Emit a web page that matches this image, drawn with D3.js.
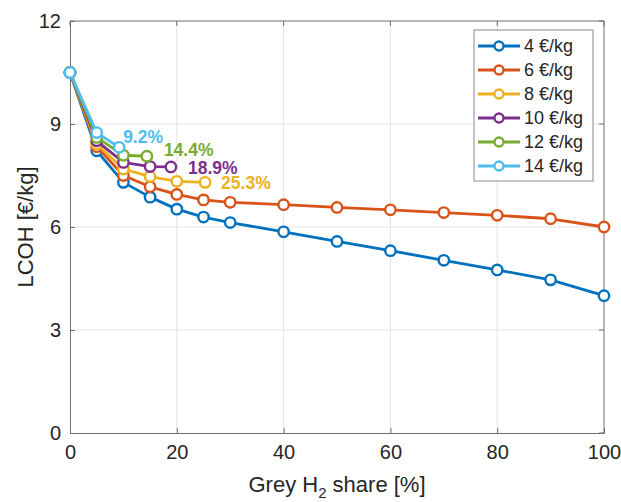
<!DOCTYPE html>
<html><head><meta charset="utf-8">
<script src="https://cdn.jsdelivr.net/npm/d3@7"></script>
<style>body{margin:0;background:#fff}svg{display:block}</style>
</head><body>
<script>
// ---- data ----
const seriesNames = ["4 €/kg","6 €/kg","8 €/kg","10 €/kg","12 €/kg","14 €/kg"];
const x4  = [0,5,10,15,20,25,30,40,50,60,70,80,90,100];
const y4  = [10.5,8.22,7.30,6.87,6.52,6.29,6.13,5.86,5.58,5.31,5.03,4.75,4.46,4.0];
const x6  = [0,5,10,15,20,25,30,40,50,60,70,80,90,100];
const y6  = [10.5,8.34,7.50,7.17,6.95,6.79,6.72,6.65,6.57,6.50,6.42,6.34,6.24,6.0];
const x8  = [0,5,10,15,20,25.3];
const y8  = [10.5,8.42,7.69,7.47,7.33,7.30];
const x10 = [0,5,10,15,18.9];
const y10 = [10.5,8.51,7.88,7.76,7.75];
const x12 = [0,5,10,14.4];
const y12 = [10.5,8.61,8.09,8.06];
const x14 = [0,5,9.2];
const y14 = [10.5,8.75,8.32];
const endLabels = ["", "", "25.3%", "18.9%", "14.4%", "9.2%"];
const xTicks = [0,20,40,60,80,100];
const yTicks = [0,3,6,9,12];

const colors = ["#0072BD","#D95319","#EDB120","#7E2F8E","#77AC30","#4DBEEE"];
const xs = [x4,x6,x8,x10,x12,x14], ys = [y4,y6,y8,y10,y12,y14];
const series = seriesNames.map((n,i)=>({name:n, color:colors[i], label:endLabels[i],
  pts: xs[i].map((x,j)=>({x, y: ys[i][j]}))}));

const W=621,H=502, L=70,R=604,T=21,B=433;
const svg = d3.select("body").append("svg").attr("width",W).attr("height",H)
  .style("font-family","'Liberation Sans', Arial, Helvetica, sans-serif");
const x = d3.scaleLinear().domain([0,100]).range([L,R]);
const y = d3.scaleLinear().domain([0,12]).range([B,T]);

// grid
svg.append("g").selectAll("line").data(xTicks.slice(1,-1)).join("line")
  .attr("x1",d=>x(d)).attr("x2",d=>x(d)).attr("y1",T).attr("y2",B)
  .attr("stroke","#e3e3e3").attr("stroke-width",1);
svg.append("g").selectAll("line").data(yTicks.slice(1,-1)).join("line")
  .attr("y1",d=>y(d)).attr("y2",d=>y(d)).attr("x1",L).attr("x2",R)
  .attr("stroke","#e3e3e3").attr("stroke-width",1);

// axes
const axCol="#6e6e6e";
const xAx = svg.append("g").attr("transform",`translate(0,${B})`)
  .call(d3.axisBottom(x).tickValues(xTicks).tickSize(-5).tickPadding(12).tickFormat(d3.format("d")));
const yAx = svg.append("g").attr("transform",`translate(${L},0)`)
  .call(d3.axisLeft(y).tickValues(yTicks).tickSize(-5).tickPadding(9).tickFormat(d3.format("d")));
[xAx,yAx].forEach(g=>{
  g.select(".domain").attr("stroke",axCol);
  g.selectAll(".tick line").attr("stroke",axCol);
  g.selectAll(".tick text").attr("fill","#262626").attr("font-size",20).attr("font-family","'Liberation Sans', Arial, sans-serif");
});
// top and right box lines
svg.append("line").attr("x1",L).attr("x2",R).attr("y1",T).attr("y2",T).attr("stroke",axCol);
svg.append("line").attr("x1",R).attr("x2",R).attr("y1",T).attr("y2",B).attr("stroke",axCol);
svg.append("g").selectAll("line").data(xTicks).join("line")
  .attr("x1",d=>x(d)).attr("x2",d=>x(d)).attr("y1",T).attr("y2",T+5).attr("stroke",axCol);
svg.append("g").selectAll("line").data(yTicks).join("line")
  .attr("y1",d=>y(d)).attr("y2",d=>y(d)).attr("x1",R).attr("x2",R-5).attr("stroke",axCol);

// axis titles
const xt = svg.append("text").attr("x",(L+R)/2).attr("y",492).attr("text-anchor","middle")
  .attr("font-size",22).attr("fill","#262626");
xt.append("tspan").text("Grey H");
xt.append("tspan").text("2").attr("font-size",15).attr("dy",6);
xt.append("tspan").text(" share [%]").attr("dy",-6);
svg.append("text").attr("transform",`translate(33,${(T+B)/2}) rotate(-90)`)
  .attr("text-anchor","middle").attr("font-size",22).attr("fill","#262626").text("LCOH [€/kg]");

// lines
const line = d3.line().x(d=>x(d.x)).y(d=>y(d.y));
const gS = svg.append("g");
series.forEach(s=>{
  const g = gS.append("g");
  g.append("path").datum(s.pts).attr("d",line).attr("fill","none")
    .attr("stroke",s.color).attr("stroke-width",2.8).attr("stroke-linejoin","round");
  g.selectAll("circle").data(s.pts).join("circle")
    .attr("cx",d=>x(d.x)).attr("cy",d=>y(d.y)).attr("r",5.2)
    .attr("fill","#fff").attr("stroke",s.color).attr("stroke-width",2.4);
});

// end labels
const labOff = {"25.3%":[16,1],"18.9%":[17,1],"14.4%":[17,-6],"9.2%":[4,-10]};
series.forEach(s=>{
  if(!s.label) return;
  const p = s.pts[s.pts.length-1], o = labOff[s.label];
  svg.append("text").attr("x",x(p.x)+o[0]).attr("y",y(p.y)+o[1]).attr("dy","0.35em")
    .attr("font-size",17.5).attr("font-weight","bold").attr("fill",s.color).text(s.label);
});

// legend
const lg = svg.append("g");
const lx=474, ly=30, lw=119, lh=151, rowH=24;
lg.append("rect").attr("x",lx).attr("y",ly).attr("width",lw).attr("height",lh)
  .attr("fill","#fff").attr("stroke","#8a8a8a").attr("stroke-width",1);
series.forEach((s,i)=>{
  const cy = ly+16+i*rowH;
  lg.append("line").attr("x1",lx+4).attr("x2",lx+46).attr("y1",cy).attr("y2",cy)
    .attr("stroke",s.color).attr("stroke-width",2.8);
  lg.append("circle").attr("cx",lx+25).attr("cy",cy).attr("r",4.5)
    .attr("fill","#fff").attr("stroke",s.color).attr("stroke-width",2.4);
  lg.append("text").attr("x",lx+50).attr("y",cy).attr("dy","0.35em")
    .attr("font-size",18).attr("fill","#262626").text(s.name);
});
</script>
</body></html>
